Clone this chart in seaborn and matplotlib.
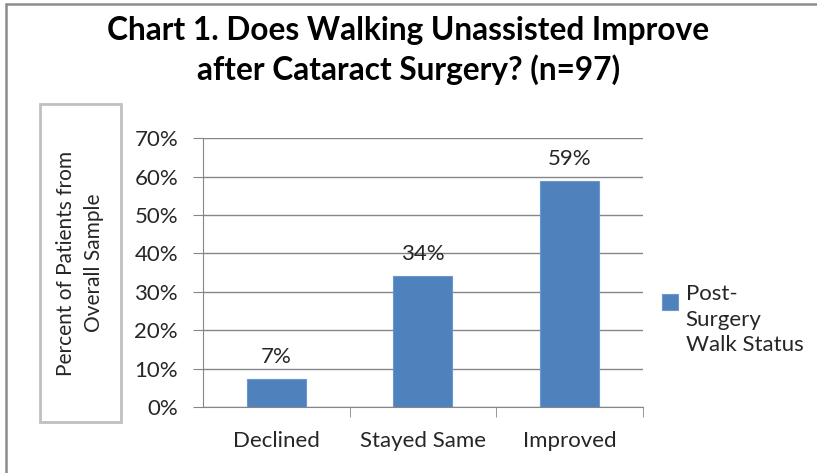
import numpy as np
import pandas as pd
import matplotlib
matplotlib.use("Agg")
import matplotlib.pyplot as plt
import seaborn as sns
from matplotlib.patches import Rectangle
from matplotlib.legend_handler import HandlerPatch
from matplotlib.lines import Line2D
from matplotlib.ticker import PercentFormatter, FixedLocator

categories = ["Declined", "Stayed Same", "Improved"]
shares = [0.072, 0.340, 0.588]
bar_labels = ["7%", "34%", "59%"]
series_name = "Post-\nSurgery\nWalk Status"
title = "Chart 1. Does Walking Unassisted Improve\nafter Cataract Surgery? (n=97)"
ylabel = "Percent of Patients from\nOverall Sample"

sns.set_style("white")
plt.rcParams["font.family"] = ["Lato", "DejaVu Sans"]
txt = "#262626"
grid = "#868686"

df = pd.DataFrame({"status": categories, "share": shares})

fig = plt.figure(figsize=(8.17, 4.73), dpi=100)
ax = fig.add_axes([0.2485, 0.1395, 0.538, 0.5685])

sns.barplot(data=df, x="status", y="share", color="#4F81BD", width=0.4,
            saturation=1, edgecolor="#6A97CF", linewidth=0.8,
            label=series_name, ax=ax)

ax.set_ylim(0, 0.70)
ax.set_xlim(-0.5, 2.5)
ax.yaxis.set_major_locator(FixedLocator(np.arange(0, 0.71, 0.1)))
ax.yaxis.set_major_formatter(PercentFormatter(1.0, decimals=0))
ax.grid(axis="y", color=grid, linewidth=1)
ax.set_axisbelow(True)
for s in ["top", "right"]:
    ax.spines[s].set_visible(False)
ax.spines["left"].set_color(grid)
ax.spines["bottom"].set_color(grid)
ax.tick_params(axis="y", which="major", length=7, color=grid, direction="out",
               labelsize=16, labelcolor=txt, left=True, pad=11)
ax.tick_params(axis="x", which="major", length=0, labelsize=16, labelcolor=txt, pad=17)
ax.set_xticks([0.5, 1.5, 2.5], minor=True)
ax.tick_params(axis="x", which="minor", length=7, color=grid, direction="out", bottom=True)
ax.set_xlabel("")
ax.set_ylabel("")

ax.bar_label(ax.containers[0], labels=bar_labels, padding=9, fontsize=16, color=txt)

fig.text(0.5, 0.893, title, ha="center", va="center", fontsize=22.8,
         fontweight="bold", color="#000000", linespacing=1.38)

# boxed axis title
fig.patches.append(Rectangle((40 / 817, 1 - 422 / 473), 81 / 817, 318 / 473,
                             transform=fig.transFigure, fill=False,
                             edgecolor="#C0C0C0", linewidth=2))
fig.text(80 / 817, 1 - 263 / 473, ylabel, rotation=90, ha="center", va="center",
         fontsize=15, color=txt, linespacing=1.45)


# legend marker sits at the first line of the label
def top_square(legend, orig_handle, xdescent, ydescent, width, height, fontsize):
    size = 0.7 * fontsize
    return Rectangle((-xdescent, -ydescent + height - size * 0.95), size, size)


leg = ax.legend(handles=ax.containers[0][:1], labels=[series_name],
                handler_map={Rectangle: HandlerPatch(patch_func=top_square)},
                loc="upper left", bbox_to_anchor=(1.025, 0.49), frameon=False,
                fontsize=16, handlelength=0.7, handleheight=3.3, handletextpad=0.35,
                labelcolor=txt, borderaxespad=0)
for t in leg.get_texts():
    t.set_linespacing(1.35)

# outer chart frame (only top and left edges visible)
fig.add_artist(Line2D([6 / 817, 6 / 817], [0, 1 - 4 / 473], transform=fig.transFigure,
                      color="#8C8C8C", linewidth=1.8))
fig.add_artist(Line2D([6 / 817, 1], [1 - 4 / 473, 1 - 4 / 473], transform=fig.transFigure,
                      color="#8C8C8C", linewidth=1.8))

fig.savefig("out.png", dpi=100, facecolor="white")
